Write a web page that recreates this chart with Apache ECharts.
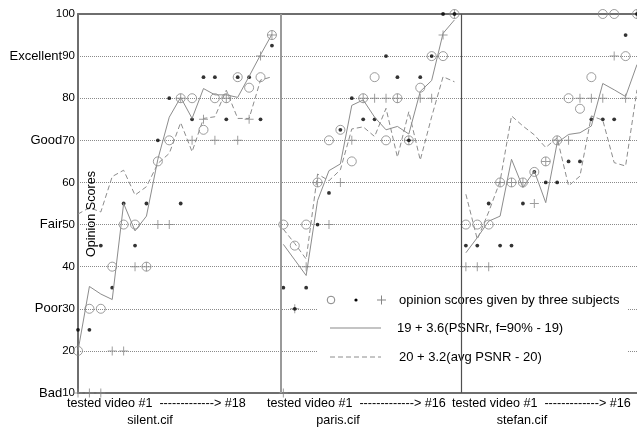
<!DOCTYPE html>
<html>
<head>
<meta charset="utf-8">
<script src="https://cdn.jsdelivr.net/npm/echarts@6/dist/echarts.min.js"></script>
<style>
html,body{margin:0;padding:0;background:#fff;}
#chart{width:637px;height:428px;}
</style>
</head>
<body>
<div id="chart"></div>
<script>
// ---- data ----
const groupNames = ['silent.cif', 'paris.cif', 'stefan.cif'];
const groupAxisText = ['tested video #1  -------------> #18', 'tested video #1  -------------> #16', 'tested video #1  -------------> #16'];
const yTickValues = [10, 20, 30, 40, 50, 60, 70, 80, 90, 100];
const yTickWords = ['Bad', '', 'Poor', '', 'Fair', '', 'Good', '', 'Excellent', ''];
const legendTexts = ['opinion scores given by three subjects', '19 + 3.6(PSNRr, f=90% - 19)', '20 + 3.2(avg PSNR - 20)'];
const yAxisTitle = 'Opinion Scores';

const silentCircle = [20, 30, 30, 40, 50, 50, 40, 65, 70, 80, 80, 72.5, 80, 80, 85, 82.5, 85, 95];
const silentDot    = [25, 25, 45, 35, 55, 45, 55, 70, 80, 55, 75, 85, 85, 75, 85, 85, 75, 92.5];
const silentPlus   = [10, 10, 10, 20, 20, 40, 40, 50, 50, 80, 70, 75, 70, 80, 70, 75, 90, 95];
const silentFitR   = [20, 35.3, 33.5, 32.2, 55, 48.5, 52, 65.5, 75.5, 80.2, 75.2, 82.3, 80.8, 80.8, 80.2, 85.2, 90.3, 95.2];
const silentFitAvg = [52.5, 54, 53, 61.4, 62.9, 57, 59, 64.5, 66.9, 74.2, 67.3, 75.2, 75.6, 81.9, 75.2, 75.2, 84.3, 85.1];

const parisCircle = [50, 45, 50, 60, 70, 72.5, 65, 80, 85, 70, 80, 70, 82.5, 90, 90, 100];
const parisDot    = [35, 30, 35, 50, 57.5, 72.5, 80, 75, 75, 90, 85, 70, 85, 90, 100, 100];
const parisPlus   = [10, 30, 40, 60, 50, 60, 70, 80, 80, 80, 80, 70, 80, 80, 95, 100];
const parisFitR   = [45.3, 41.6, 37.9, 55.7, 62.8, 64.4, 78.3, 79.6, 75.5, 72.5, 73.3, 71.5, 81.6, 84.2, 95.4, 98.6];
const parisFitAvg = [48.9, 45.5, 41.8, 62, 60.4, 63, 72.7, 73.2, 70.9, 77.6, 66, 76.8, 65.3, 75.6, 85.1, 83.9];

const stefanCircle = [50, 50, 50, 60, 60, 60, 62.5, 65, 70, 80, 77.5, 85, 100, 100, 90, 100];
const stefanDot    = [45, 45, 55, 45, 45, 55, 62.5, 60, 60, 65, 65, 75, 75, 75, 95, 100];
const stefanPlus   = [40, 40, 40, 60, 60, 60, 55, 65, 70, 70, 80, 80, 80, 90, 80, 100];
const stefanFitR   = [43.3, 46.9, 50.8, 52, 65.5, 58.8, 62.7, 55.2, 69.4, 71.4, 71.8, 73.4, 83.5, 82, 80.4, 88];
const stefanFitAvg = [57.2, 46.5, 53, 60.3, 75.8, 73.4, 71.3, 68.3, 70.6, 59.2, 61.5, 75.8, 74.8, 64.7, 63.9, 82];

// group boundaries on the index axis (between last and first video of neighbouring groups)
const groupBoundaries = [17.8, 33.6];

// ---- build ----
const groupsCircle = [silentCircle, parisCircle, stefanCircle];
const groupsDot = [silentDot, parisDot, stefanDot];
const groupsPlus = [silentPlus, parisPlus, stefanPlus];
const groupsFitR = [silentFitR, parisFitR, stefanFitR];
const groupsFitAvg = [silentFitAvg, parisFitAvg, stefanFitAvg];

function offsets() {
  const o = []; let s = 0;
  groupsCircle.forEach(g => { o.push(s); s += g.length; });
  return o;
}
const offs = offsets();
const totalPoints = offs[2] + groupsCircle[2].length;

function flat(groups) {
  const out = [];
  groups.forEach((g, gi) => g.forEach((v, i) => out.push([offs[gi] + i, v])));
  return out;
}
function per(groups, gi) {
  return groups[gi].map((v, i) => [offs[gi] + i, v]);
}

const gray = '#858585';
const plusPath = 'path://M4.45,0H5.55V4.45H10V5.55H5.55V10H4.45V5.55H0V4.45H4.45Z';
const series = [];
for (let gi = 0; gi < 3; gi++) {
  series.push({
    type: 'line', data: per(groupsFitR, gi), showSymbol: false, silent: true,
    lineStyle: { color: '#8c8c8c', width: 1, type: 'solid' },
    markLine: gi === 0 ? {
      silent: true, symbol: ['none', 'none'], label: { show: false },
      data: [
        { xAxis: groupBoundaries[0], lineStyle: { color: '#9a9a9a', width: 2, type: 'solid' } },
        { xAxis: groupBoundaries[1], lineStyle: { color: '#505050', width: 1.2, type: 'solid' } }
      ]
    } : undefined
  });
  series.push({
    type: 'line', data: per(groupsFitAvg, gi), showSymbol: false, silent: true,
    lineStyle: { color: '#8c8c8c', width: 1, type: [5, 3] }
  });
}
series.push({
  type: 'scatter', data: flat(groupsCircle), symbol: 'circle', symbolSize: 9, silent: true,
  itemStyle: { color: 'rgba(0,0,0,0)', borderColor: gray, borderWidth: 1 }
});
series.push({
  type: 'scatter', data: flat(groupsPlus), symbol: plusPath, symbolSize: 9, silent: true,
  itemStyle: { color: gray }
});
series.push({
  type: 'scatter', data: flat(groupsDot), symbol: 'circle', symbolSize: 3.8, silent: true,
  itemStyle: { color: '#000' }
});

const font = '"Liberation Sans", Arial, sans-serif';
const axisTextX = [67, 267, 452];
const groupLabelX = [150, 338, 522];
const graphics = [];
groupAxisText.forEach((t, i) => {
  graphics.push({ type: 'text', x: axisTextX[i], y: 404, z: 5,
    style: { text: t, font: '12.6px ' + font, fill: '#000', textAlign: 'left', textVerticalAlign: 'middle' } });
  graphics.push({ type: 'text', x: groupLabelX[i], y: 421, z: 5,
    style: { text: groupNames[i], font: '12.6px ' + font, fill: '#000', textAlign: 'center', textVerticalAlign: 'middle' } });
});
graphics.push({ type: 'text', x: 92, y: 214, rotation: Math.PI / 2, z: 5,
  style: { text: yAxisTitle, font: '12.6px ' + font, fill: '#000', textAlign: 'center', textVerticalAlign: 'middle' } });
// legend box
graphics.push({ type: 'rect', shape: { x: 318, y: 273, width: 310, height: 112 }, z: 1,
  style: { fill: '#fff' } });
graphics.push({ type: 'circle', shape: { cx: 331, cy: 300, r: 3.8 }, z: 1,
  style: { fill: 'none', stroke: gray, lineWidth: 1 } });
graphics.push({ type: 'circle', shape: { cx: 356, cy: 300, r: 1.6 }, z: 1, style: { fill: '#000' } });
graphics.push({ type: 'line', shape: { x1: 377, y1: 300, x2: 386, y2: 300 }, z: 1, style: { stroke: gray, lineWidth: 1 } });
graphics.push({ type: 'line', shape: { x1: 381.5, y1: 295.5, x2: 381.5, y2: 304.5 }, z: 1, style: { stroke: gray, lineWidth: 1 } });
graphics.push({ type: 'line', shape: { x1: 330, y1: 328, x2: 381, y2: 328 }, z: 1, style: { stroke: '#b0b0b0', lineWidth: 1.6 } });
graphics.push({ type: 'line', shape: { x1: 330, y1: 357, x2: 381, y2: 357 }, z: 1, style: { stroke: '#8c8c8c', lineWidth: 1, lineDash: [5, 3] } });
const legendY = [300, 328, 357];
const legendX = [399, 397, 399];
legendTexts.forEach((t, i) => {
  graphics.push({ type: 'text', x: legendX[i], y: legendY[i], z: 1,
    style: { text: t, font: '13px ' + font, fill: '#000', textAlign: 'left', textVerticalAlign: 'middle' } });
});

const chart = echarts.init(document.getElementById('chart'), null, { renderer: 'canvas' });
chart.setOption({
  animation: false,
  backgroundColor: '#fff',
  textStyle: { fontFamily: font },
  grid: { left: 78, top: 14, right: 0, bottom: 35 },
  xAxis: [{
    type: 'value', min: 0, max: totalPoints - 1, position: 'bottom',
    axisLine: { show: true, onZero: false, lineStyle: { color: '#6e6e6e', width: 2 } },
    axisTick: { show: false }, axisLabel: { show: false }, splitLine: { show: false }
  }, {
    type: 'value', min: 0, max: totalPoints - 1, position: 'top',
    axisLine: { show: true, onZero: false, lineStyle: { color: '#6e6e6e', width: 2 } },
    axisTick: { show: false }, axisLabel: { show: false }, splitLine: { show: false }
  }],
  yAxis: {
    type: 'value', min: 10, max: 100, interval: 10,
    axisLine: { show: true, lineStyle: { color: '#6e6e6e', width: 2 } },
    axisTick: { show: false },
    splitLine: { show: true, lineStyle: { color: '#8a8a8a', width: 1, type: 'dotted' } },
    axisLabel: {
      margin: 3,
      formatter: function (v) {
        const i = yTickValues.indexOf(v);
        const w = i >= 0 ? yTickWords[i] : '';
        return (w ? '{w|' + w + '}' : '') + '{n|' + v + '}';
      },
      rich: {
        w: { fontSize: 13, color: '#000', fontFamily: font },
        n: { fontSize: 11.5, color: '#000', fontFamily: font }
      }
    }
  },
  graphic: graphics,
  series: series
});
</script>
</body>
</html>
